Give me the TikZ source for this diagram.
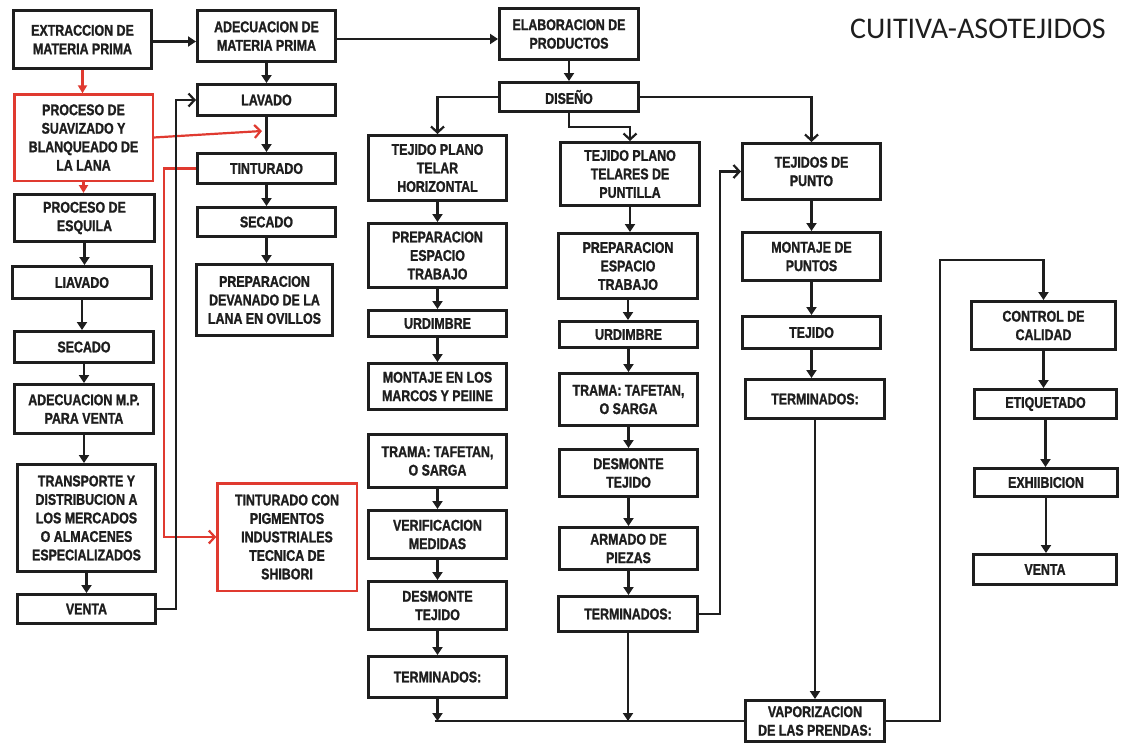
\documentclass[tikz,border=0pt]{standalone}
\usepackage{fontspec}
\setmainfont{Liberation Sans}[FakeStretch=0.8,BoldFont=Liberation Sans Bold,BoldFeatures={FakeBold=1.3}]
\newfontfamily\titlefont{Carlito}
\usetikzlibrary{arrows.meta}
\definecolor{myred}{RGB}{224,58,48}
\definecolor{ink}{RGB}{30,30,30}
\newcommand\bx[7][box]{\node[#1,minimum width={#6pt-2.8pt},minimum height={#7pt-2.8pt}] (#2) at (#3,#4) {#5};}
\begin{document}
\begin{tikzpicture}[x=1pt,y=-1pt,
 box/.style={draw=ink,line width=2.8pt,inner sep=1pt,align=center,font=\fontsize{15.5}{18.5}\selectfont\bfseries,text=ink},
 rbox/.style={box,draw=myred,line width=2.2pt},
 link/.style={draw=ink,line width=2.2pt},
 arr/.style={link,-{Triangle[width=10pt,length=8pt]}},
 oarr/.style={link,-{Straight Barb[length=6pt,width=13pt]}},
 rarr/.style={draw=myred,line width=2.2pt,-{Triangle[width=9pt,length=8pt]}},
 roarr/.style={draw=myred,line width=2.2pt,-{Straight Barb[length=6pt,width=13pt]}}]
\useasboundingbox (0,0) rectangle (1128,745);
\fill[white] (0,0) rectangle (1128,745);

\node[font=\titlefont\fontsize{30}{30}\selectfont,text=ink] (title) at (978,29) {CUITIVA-ASOTEJIDOS};

% column A (left)
\bx{ext}{82.5}{39.5}{EXTRACCION DE\\MATERIA PRIMA}{141}{61}
\bx[rbox]{suav}{83.5}{137.5}{PROCESO DE\\SUAVIZADO Y\\BLANQUEADO DE\\LA LANA}{141}{89}
\bx{esq}{84.5}{218}{PROCESO DE\\ESQUILA}{143}{50}
\bx{liav}{82}{282.5}{LIAVADO}{142}{35}
\bx{secB}{84}{347}{SECADO}{142}{34}
\bx{adecmp}{84}{409}{ADECUACION M.P.\\PARA VENTA}{142}{52}
\bx{transp}{86.5}{518}{TRANSPORTE Y\\DISTRIBUCION A\\LOS MERCADOS\\O ALMACENES\\ESPECIALIZADOS}{141}{110}
\bx{ventaA}{86.5}{609}{VENTA}{141}{32}

% column B
\bx{adec}{266.5}{36}{ADECUACION DE\\MATERIA PRIMA}{141}{54}
\bx{lav}{266.5}{100}{LAVADO}{141}{34}
\bx{tint}{266.5}{168.5}{TINTURADO}{141}{33}
\bx{secA}{266.5}{222}{SECADO}{141}{32}
\bx{prepdev}{264.5}{300}{PREPARACION\\DEVANADO DE LA\\LANA EN OVILLOS}{139}{74}
\bx[rbox]{tintcon}{287}{537}{TINTURADO CON\\PIGMENTOS\\INDUSTRIALES\\TECNICA DE\\SHIBORI}{142}{110}

% top middle
\bx{elab}{569}{34}{ELABORACION DE\\PRODUCTOS}{142}{54}
\bx{dis}{569}{97}{DISEÑO}{142}{32}

% column C
\bx{tpA}{437.5}{168}{TEJIDO PLANO\\TELAR\\HORIZONTAL}{141}{68}
\bx{prepA}{437.5}{255.5}{PREPARACION\\ESPACIO\\TRABAJO}{141}{67}
\bx{urdA}{437.5}{323.5}{URDIMBRE}{141}{29}
\bx{mont}{437.5}{386.5}{MONTAJE EN LOS\\MARCOS Y PEIINE}{141}{49}
\bx{tramaA}{437.5}{461}{TRAMA: TAFETAN,\\O SARGA}{141}{56}
\bx{verif}{437.5}{534.5}{VERIFICACION\\MEDIDAS}{141}{51}
\bx{desmA}{437.5}{605.5}{DESMONTE\\TEJIDO}{141}{51}
\bx{termA}{437.5}{677}{TERMINADOS:}{141}{44}

% column D
\bx{tpB}{630}{174}{TEJIDO PLANO\\TELARES DE\\PUNTILLA}{142}{66}
\bx{prepB}{628}{266}{PREPARACION\\ESPACIO\\TRABAJO}{142}{68}
\bx{urdB}{628.5}{334.5}{URDIMBRE}{141}{29}
\bx{tramaB}{628.5}{399.5}{TRAMA: TAFETAN,\\O SARGA}{141}{55}
\bx{desmB}{628.5}{473}{DESMONTE\\TEJIDO}{141}{50}
\bx{armado}{628.5}{548.5}{ARMADO DE\\PIEZAS}{141}{45}
\bx{termB}{628}{614}{TERMINADOS:}{142}{38}

% column E
\bx{tpunto}{811.5}{171.5}{TEJIDOS DE\\PUNTO}{141}{59}
\bx{montp}{811.5}{256.5}{MONTAJE DE\\PUNTOS}{141}{51}
\bx{tejido}{811.5}{332.5}{TEJIDO}{141}{35}
\bx{termC}{815}{399}{TERMINADOS:}{142}{42}
\bx{vapor}{815}{721}{VAPORIZACION\\DE LAS PRENDAS:}{142}{44}

% column F
\bx{control}{1043.5}{325.5}{CONTROL DE\\CALIDAD}{147}{51}
\bx{etiq}{1045.5}{404}{ETIQUETADO}{145}{32}
\bx{exhib}{1046}{482.5}{EXHIIBICION}{146}{31}
\bx{ventaB}{1045}{569.5}{VENTA}{146}{33}

% connectors: top row
\draw[arr] ([yshift=-2pt]ext.east) -- ([yshift=-2pt]ext.east -| adec.west);
\draw[arr] ([yshift=-3pt]adec.east) -- ([yshift=-3pt]adec.east -| elab.west);

% column B
\draw[arr] (adec.south) -- (adec.south |- lav.north);
\draw[arr] (lav.south) -- (lav.south |- tint.north);
\draw[arr] (tint.south) -- (tint.south |- secA.north);
\draw[arr] (secA.south) -- (secA.south |- prepdev.north);

% red connectors
\coordinate (rj) at (262,131);
\draw[rarr] (ext.south) -- (ext.south |- suav.north);
\draw[rarr] (suav.south) -- (suav.south |- esq.north);
\draw[roarr] (suav.east) -- (rj);
\draw[roarr] (tint.west) -- ++(-32,0) |- (tintcon.west);

% column A
\draw[arr] (esq.south) -- (esq.south |- liav.north);
\draw[arr] (liav.south) -- (liav.south |- secB.north);
\draw[arr] (secB.south) -- (secB.south |- adecmp.north);
\draw[arr] (adecmp.south) -- (adecmp.south |- transp.north);
\draw[arr] (transp.south) -- (transp.south |- ventaA.north);
\draw[oarr] (ventaA.east) -- ++(19,0) |- (lav.west);

% elaboracion / diseno
\draw[arr] (elab.south) -- (elab.south |- dis.north);
\draw[oarr] (dis.west) -| (tpA.north);
\draw[oarr] (dis.south) -- ++(0,14) -| (tpB.north);
\draw[oarr] (dis.east) -| (tpunto.north);

% column C
\draw[arr] (tpA.south) -- (tpA.south |- prepA.north);
\draw[arr] (prepA.south) -- (prepA.south |- urdA.north);
\draw[arr] (urdA.south) -- (urdA.south |- mont.north);
\draw[arr] (tramaA.south) -- (tramaA.south |- verif.north);
\draw[arr] (verif.south) -- (verif.south |- desmA.north);
\draw[arr] (desmA.south) -- (desmA.south |- termA.north);

% column D
\draw[arr] (tpB.south) -- (tpB.south |- prepB.north);
\draw[arr] (prepB.south) -- (prepB.south |- urdB.north);
\draw[arr] (urdB.south) -- (urdB.south |- tramaB.north);
\draw[arr] (tramaB.south) -- (tramaB.south |- desmB.north);
\draw[arr] (desmB.south) -- (desmB.south |- armado.north);
\draw[arr] (armado.south) -- (armado.south |- termB.north);
\draw[oarr] (termB.east) -- ++(21,0) |- (tpunto.west);

% joining to vaporizacion
\coordinate (jA) at (termA.south |- vapor.west);
\coordinate (jB) at (termB.south |- vapor.west);
\draw[link] ([xshift=-3pt]jA) -- (vapor.west);
\draw[arr] (termA.south) -- (jA);
\draw[arr] (termB.south) -- (jB);

% column E
\draw[arr] (tpunto.south) -- (tpunto.south |- montp.north);
\draw[arr] (montp.south) -- (montp.south |- tejido.north);
\draw[arr] (tejido.south) -- (tejido.south |- termC.north);
\draw[arr] (termC.south) -- (termC.south |- vapor.north);

% to control
\coordinate (k) at (940,260);
\draw[arr] (vapor.east) -| (k) -| (control.north);
\draw[arr] (control.south) -- (control.south |- etiq.north);
\draw[arr] (etiq.south) -- (etiq.south |- exhib.north);
\draw[arr] (exhib.south) -- (exhib.south |- ventaB.north);
\end{tikzpicture}
\end{document}
